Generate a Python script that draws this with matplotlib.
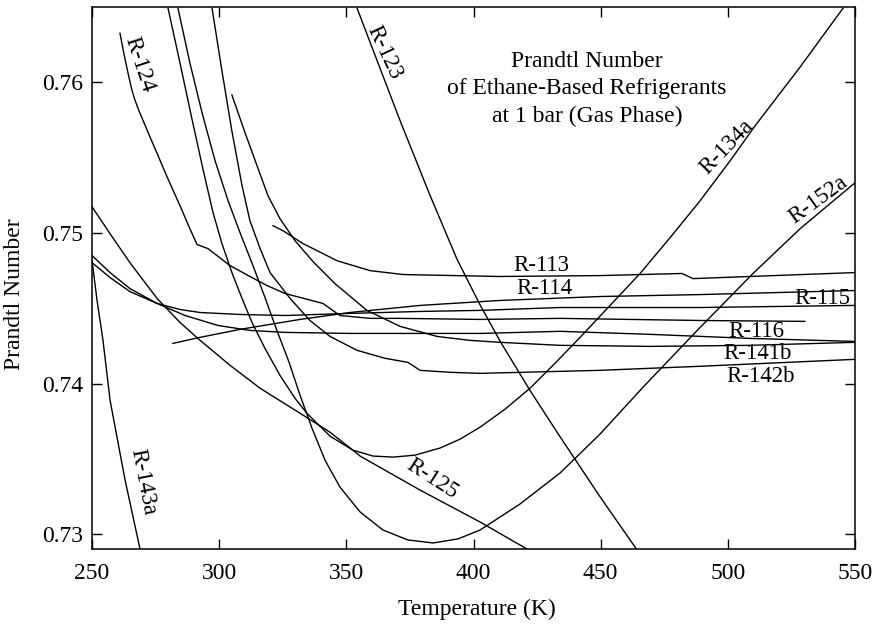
import matplotlib
matplotlib.use("Agg")
import matplotlib.pyplot as plt

plt.rcParams['font.family'] = ['Liberation Serif', 'DejaVu Serif']

# ---- data (Temperature K, Prandtl number) ----
T_143a = [250, 252, 254.3, 257.1, 263, 268.9]
P_143a = [0.7482, 0.7455, 0.7429, 0.7389, 0.7336, 0.7290]

T_125 = [250, 257.1, 264.9, 275.6, 284.6, 292.5, 304.3, 316.1, 331.8, 343.6, 352.6, 355.4, 379.0, 402.6, 421.0]
P_125 = [0.75174, 0.74995, 0.74803, 0.74565, 0.74406, 0.74287, 0.74121, 0.73969, 0.73803, 0.73677,
         0.73558, 0.73519, 0.73293, 0.73081, 0.72902]

T_115 = [250, 257.1, 264.9, 275.6, 284.6, 292.5, 308.2, 325.9, 351.4, 379.0, 402.6, 434.0, 489.1, 550]
P_115 = [0.74850, 0.74737, 0.74631, 0.74532, 0.74492, 0.74472, 0.74459, 0.74452, 0.74466, 0.74479,
         0.74486, 0.74505, 0.74505, 0.74519]

T_116 = [250, 257.1, 264.9, 275.6, 286.6, 299.5, 312.1, 325.9, 351.4, 402.6, 434.0, 469.4, 508.7, 550]
P_116 = [0.74803, 0.74704, 0.74611, 0.74532, 0.74452, 0.74386, 0.74353, 0.74340, 0.74333, 0.74333,
         0.74347, 0.74327, 0.74300, 0.74280]

T_114 = [281.8, 292.5, 308.2, 320.0, 331.8, 351.4, 379.0, 410.4, 449.7, 489.1, 550]
P_114 = [0.74267, 0.74307, 0.74360, 0.74393, 0.74426, 0.74472, 0.74519, 0.74552, 0.74578, 0.74591, 0.74618]

T_113 = [321.2, 325.1, 333.0, 340.8, 346.3, 359.3, 372.3, 410.4, 449.7, 482.0, 486.3, 550]
P_113 = [0.75048, 0.75015, 0.74929, 0.74863, 0.74816, 0.74750, 0.74724, 0.74711, 0.74717, 0.74731,
         0.74697, 0.74737]

T_123 = [354.2, 362.1, 371.1, 382.9, 393.5, 402.6, 410.4, 422.2, 434.0, 449.7, 464.3]
P_123 = [0.76493, 0.76144, 0.75747, 0.75250, 0.74826, 0.74522, 0.74283, 0.73955, 0.73648, 0.73250, 0.72896]

T_134a = [279.9, 284.6, 289.3, 293.6, 297.6, 301.1, 305.0, 309.0, 312.9, 318.0, 323.9, 329.8, 334.5,
          343.6, 352.6, 360.5, 368.4, 377.0, 386.8, 394.7, 402.6, 412.4, 422.2, 432.0, 441.9, 453.7,
          465.5, 477.3, 489.1, 500.9, 510.7, 528.4, 545.3]
P_134a = [0.76492, 0.76128, 0.75757, 0.75426, 0.75134, 0.74929, 0.74737, 0.74565, 0.74406, 0.74234,
          0.74055, 0.73903, 0.73803, 0.73651, 0.73558, 0.73519, 0.73512, 0.73525, 0.73572, 0.73631,
          0.73711, 0.73830, 0.73969, 0.74134, 0.74307, 0.74519, 0.74731, 0.74969, 0.75214, 0.75479,
          0.75711, 0.76101, 0.76492]

T_152a = [283.8, 288.5, 293.3, 298.4, 303.5, 308.2, 313.3, 318.0, 322.7, 327.5, 331.8, 336.5, 341.6,
          347.5, 355.4, 364.4, 374.2, 384.1, 393.9, 402.6, 418.3, 434.0, 449.7, 466.6, 489.1, 509.9,
          528.4, 550]
P_152a = [0.76492, 0.76128, 0.75796, 0.75479, 0.75214, 0.75002, 0.74783, 0.74572, 0.74353, 0.74141,
          0.73923, 0.73704, 0.73492, 0.73313, 0.73148, 0.73028, 0.72962, 0.72942, 0.72969, 0.73028,
          0.73201, 0.73406, 0.73664, 0.73975, 0.74373, 0.74731, 0.75028, 0.75333]

T_142b = [297.2, 301.1, 305.0, 309.0, 312.1, 316.1, 320.0, 327.9, 335.7, 343.6, 354.2, 365.2, 374.2,
          379.0, 390.8, 402.6, 449.7, 489.1, 550]
P_142b = [0.76492, 0.76075, 0.75677, 0.75313, 0.75081, 0.74896, 0.74737, 0.74565, 0.74419, 0.74313,
          0.74221, 0.74168, 0.74141, 0.74088, 0.74075, 0.74068, 0.74088, 0.74115, 0.74161]

T_141b = [305.0, 310.2, 314.9, 319.2, 323.9, 329.8, 336.9, 345.5, 358.1, 371.1, 385.7, 398.6, 410.4,
          434.0, 469.4, 508.7, 550]
P_141b = [0.75916, 0.75664, 0.75446, 0.75247, 0.75095, 0.74949, 0.74810, 0.74664, 0.74486, 0.74380,
          0.74313, 0.74287, 0.74274, 0.74254, 0.74247, 0.74254, 0.74274]

T_124 = [261.0, 262.2, 263.4, 264.6, 265.7, 266.9, 268.5, 270.5, 272.8, 276.0, 279.5, 284.6, 288.5,
         291.3, 295.6, 304.3, 312.1, 318.8, 325.9, 331.8, 340.8, 347.5, 359.3, 371.1, 402.6, 434.0,
         489.1, 530.3]
P_124 = [0.76326, 0.76220, 0.76121, 0.76028, 0.75948, 0.75882, 0.75809, 0.75730, 0.75637, 0.75512,
         0.75373, 0.75181, 0.75028, 0.74923, 0.74896, 0.74783, 0.74711, 0.74651, 0.74598, 0.74572,
         0.74532, 0.74452, 0.74433, 0.74433, 0.74426, 0.74433, 0.74419, 0.74413]

series = [(T_143a, P_143a), (T_125, P_125), (T_115, P_115), (T_116, P_116),
          (T_114, P_114), (T_113, P_113), (T_123, P_123), (T_134a, P_134a),
          (T_152a, P_152a), (T_142b, P_142b), (T_141b, P_141b), (T_124, P_124)]

# label text, position (T, Pr), rotation
labels = [("R-124", 268.5, 0.7612, -72), ("R-123", 364.8, 0.7620, -65),
          ("R-143a", 270.0, 0.7335, -79), ("R-134a", 499.7, 0.7557, 46),
          ("R-152a", 535.5, 0.7522, 36), ("R-125", 383.7, 0.7337, -33),
          ("R-113", 426.5, 0.74784, 0), ("R-114", 427.7, 0.74631, 0),
          ("R-115", 537.0, 0.74565, 0), ("R-116", 511.1, 0.74347, 0),
          ("R-141b", 511.5, 0.74201, 0), ("R-142b", 513.0, 0.74048, 0)]

title = "Prandtl Number\nof Ethane-Based Refrigerants\nat 1 bar (Gas Phase)"

x_ticks = [250, 300, 350, 400, 450, 500, 550]
y_ticks = [0.73, 0.74, 0.75, 0.76]

fig = plt.figure(figsize=(8.82, 6.24), dpi=100)
ax = fig.add_axes([92 / 882, (624 - 549.3) / 624, (855 - 92) / 882, (549.3 - 7) / 624])

for T, P in series:
    ax.plot(T, P, color='black', lw=1.0, solid_joinstyle='round')

for txt, t, p, rot in labels:
    ax.text(t, p, txt, fontsize=16.5, rotation=rot, ha='center', va='center',
            rotation_mode='anchor')

ax.text(444.7, 0.75956, title, fontsize=17, ha='center', va='center',
        linespacing=1.38)

ax.set_xlim(250, 550)
ax.set_ylim(0.729, 0.765)
ax.set_xticks(x_ticks)
ax.set_yticks(y_ticks)
ax.set_yticklabels([f"{v:.2f}" for v in y_ticks])
ax.tick_params(direction='in', length=7.5, width=1, top=True, right=True,
               labelsize=17)
ax.tick_params(axis='x', pad=10)
ax.tick_params(axis='y', pad=6.5)
for s in ax.spines.values():
    s.set_linewidth(1.1)

ax.set_xlabel("Temperature (K)", fontsize=17)
ax.set_ylabel("Prandtl Number", fontsize=17)
ax.xaxis.set_label_coords(0.505, -0.092)
ax.yaxis.set_label_coords(-0.088, 0.471)

fig.savefig("out.png", dpi=100)
